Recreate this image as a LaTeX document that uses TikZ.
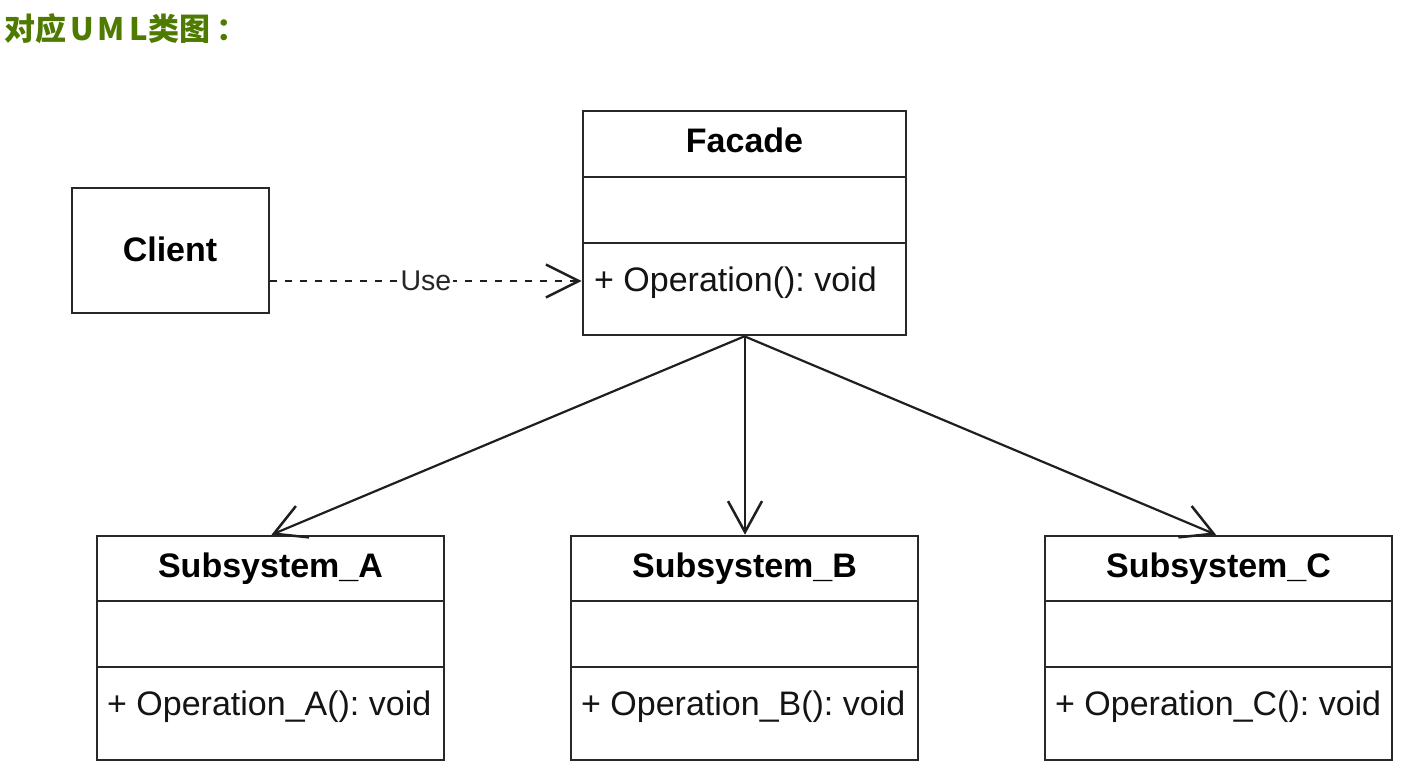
\documentclass[tikz,border=0pt]{standalone}
\usepackage{fontspec}
\setmainfont{Liberation Sans}
\newfontfamily\cjk{Noto Sans CJK SC}[BoldFont={Noto Sans CJK SC Black}]
\usetikzlibrary{arrows.meta}
\definecolor{titlegreen}{RGB}{79,122,0}
\definecolor{linegray}{RGB}{40,40,40}
\begin{document}
\frenchspacing
\begin{tikzpicture}[x=1pt,y=-1pt,
  box/.style={draw=linegray, line width=2.6pt, rectangle, inner sep=0pt, fill=white},
  clsname/.style={font=\bfseries\fontsize{34}{40}\selectfont, text=black, inner sep=0pt, anchor=base},
  optext/.style={font=\fontsize{34}{40}\selectfont, text=black!92, anchor=base west, inner sep=0pt},
  divider/.style={draw=linegray, line width=2.6pt},
  assoc/.style={draw=black!88, line width=2.2pt, -{Straight Barb[length=31pt,width=34pt,line width=2.5pt]}},
  usedep/.style={draw=black!88, line width=2.3pt, dash pattern=on 7pt off 8pt, -{Straight Barb[length=33pt,width=33pt,line width=2.5pt]}},
  deplabel/.style={font=\fontsize{28.5}{34}\selectfont, text=black!85, fill=white, inner sep=2pt}
]
\useasboundingbox (0,0) rectangle (1414,777);

% title
\node[anchor=base west, inner sep=0pt, text=titlegreen, font=\cjk\bfseries\fontsize{31}{36}\selectfont] (title) at (4,40) {对应\kern4ptU\kern4ptM\kern4ptL\kern1pt类图\kern6pt：};

% Client
\node[box, minimum width=197pt, minimum height=125pt] (client) at (170.5,250.5) {};
\node[clsname] (clientname) at (170,261.7) {Client};

% Facade
\node[box, minimum width=323pt, minimum height=224pt] (facade) at (744.5,223) {};
\node[clsname] (facadename) at (744.5,152.7) {Facade};
\draw[divider] (583,177) -- (906,177);
\draw[divider] (583,243) -- (906,243);
\node[optext] (facadeop) at (594,291.5) {+ Operation(): void};
\coordinate (uselevel) at (0,281);

% Subsystems
\node[box, minimum width=347pt, minimum height=224pt] (suba) at (270.5,648) {};
\node[clsname] (subaname) at (270.5,577) {Subsystem\_A};
\draw[divider] (97,601) -- (444,601);
\draw[divider] (97,667) -- (444,667);
\node[optext] (subaop) at (107,715) {+ Operation\_A(): void};

\node[box, minimum width=347pt, minimum height=224pt] (subb) at (744.5,648) {};
\node[clsname] (subbname) at (744.5,577) {Subsystem\_B};
\draw[divider] (571,601) -- (918,601);
\draw[divider] (571,667) -- (918,667);
\node[optext] (subbop) at (581,715) {+ Operation\_B(): void};

\node[box, minimum width=347pt, minimum height=224pt] (subc) at (1218.5,648) {};
\node[clsname] (subcname) at (1218.5,577) {Subsystem\_C};
\draw[divider] (1045,601) -- (1392,601);
\draw[divider] (1045,667) -- (1392,667);
\node[optext] (subcop) at (1055,715) {+ Operation\_C(): void};

% connectors
\draw[usedep] (client.east |- uselevel) -- node[deplabel] (uselabel) {Use} (facade.west |- uselevel);
\draw[assoc] (facade.south) -- ([xshift=1pt]suba.north);
\draw[assoc] ([xshift=0.5pt]facade.south) -- ([xshift=0.5pt]subb.north);
\draw[assoc] (facade.south) -- ([xshift=-2.5pt]subc.north);
\end{tikzpicture}
\end{document}
